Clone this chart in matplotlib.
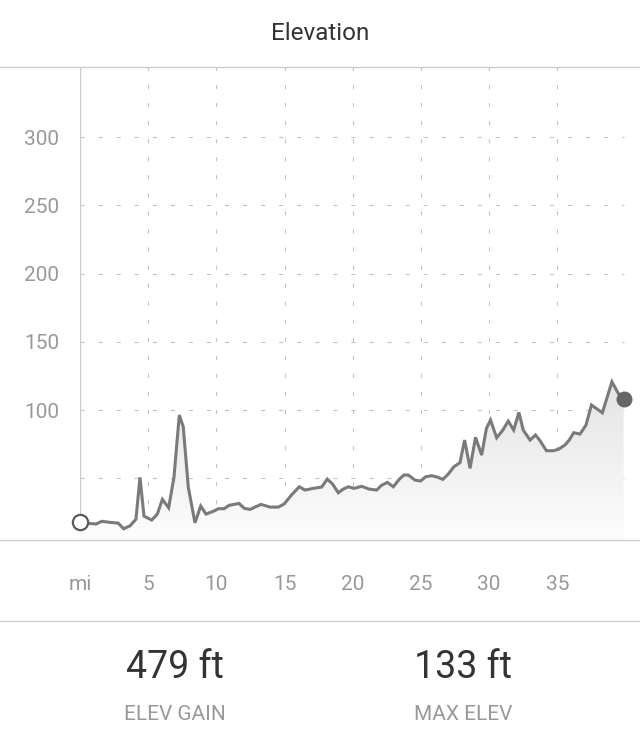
import matplotlib
matplotlib.use("Agg")
import matplotlib.pyplot as plt
from matplotlib.lines import Line2D
from matplotlib.colors import LinearSegmentedColormap
import numpy as np

plt.rcParams['font.family'] = ['Roboto', 'DejaVu Sans']
plt.rcParams['lines.scale_dashes'] = False

# Route profile (miles, feet)
miles = [0.0, 0.6, 1.17, 1.6, 2.2, 2.8, 3.2, 3.67, 4.1, 4.4, 4.69, 5.26, 5.67, 6.04, 6.5,
         6.89, 7.28, 7.57, 7.94, 8.43, 8.85, 9.24, 9.77, 10.14, 10.56, 10.93, 11.66, 12.05,
         12.46, 13.27, 13.93, 14.54, 14.96, 15.5, 16.08, 16.5, 17.1, 17.72, 18.13, 18.52,
         18.94, 19.3, 19.67, 20.09, 20.65, 21.2, 21.75, 22.1, 22.53, 22.97, 23.4, 23.75,
         24.07, 24.56, 24.97, 25.34, 25.78, 26.2, 26.6, 27.0, 27.42, 27.86, 28.2, 28.6,
         29.0, 29.45, 29.8, 30.1, 30.55, 31.0, 31.4, 31.8, 32.18, 32.5, 33.0, 33.4, 33.7,
         34.2, 34.7, 35.07, 35.56, 35.87, 36.2, 36.66, 37.1, 37.5, 38.3, 39.0, 39.47, 39.86]
elevation = [18, 17, 16.5, 18.5, 17.7, 17.2, 13, 15.2, 20, 50.7, 22.3, 19.4, 23.8, 34.6, 28.4,
             50.7, 96.3, 87.8, 43.4, 17.4, 29.7, 23.8, 25.8, 27.7, 27.7, 30.2, 31.6, 28,
             27.2, 30.9, 28.9, 28.9, 31.1, 37.7, 43.8, 41.4, 42.6, 43.6, 49.4, 45.8,
             39.4, 42.1, 43.8, 42.6, 44.1, 42.1, 41.4, 44.8, 47, 43.8, 49.2, 52.4,
             52.4, 48.7, 48, 51.1, 51.9, 50.9, 49.2, 53.1, 58.5, 61.4, 78, 57.3,
             80, 67, 86.6, 92.7, 79.7, 85.3, 91.9, 85.3, 98.3, 85.3, 78, 81.7, 78,
             70.2, 70.2, 71.2, 74.4, 78, 83.4, 82.4, 89, 103.7, 98, 120.7, 112.2, 107.8]

x_ticks = [0, 5, 10, 15, 20, 25, 30, 35]
x_labels = ['mi', '5', '10', '15', '20', '25', '30', '35']
y_ticks = [50, 100, 150, 200, 250, 300]
y_labels = ['', '100', '150', '200', '250', '300']

stat_values = ['479 ft', '133 ft']
stat_names = ['ELEV GAIN', 'MAX ELEV']

W, H = 640, 740
fig = plt.figure(figsize=(W / 100, H / 100), dpi=100)
ax = fig.add_axes([80 / W, (H - 540) / H, 560 / W, 473 / H])

y_lo, y_hi = 4.8, 351.3
ax.set_xlim(0, 41.06)
ax.set_ylim(y_lo, y_hi)
for s in ax.spines.values():
    s.set_visible(False)

grid_col = '#c4c4c4'
dash = (0, (3, 10))
ax.hlines(y_ticks, 0, miles[-1], colors=grid_col, lw=0.8, linestyles=[dash], zorder=1)
ax.vlines(x_ticks[1:], y_lo, y_hi, colors=grid_col, lw=0.8, linestyles=[dash], zorder=1)
ax.axvline(0, color='#cccccc', lw=1.0, zorder=1)

# gradient under the line
fill = ax.fill_between(miles, elevation, y_lo, color='none', lw=0)
cmap = LinearSegmentedColormap.from_list('g', ['#fdfdfd', '#e4e4e4'])
grad = np.linspace(0, 1, 256).reshape(-1, 1)
img = ax.imshow(grad, cmap=cmap, aspect='auto', origin='lower',
                extent=[0, miles[-1], y_lo, max(elevation)], zorder=2)
img.set_clip_path(fill.get_paths()[0], transform=ax.transData)

ax.plot(miles, elevation, color='#7a7a7a', lw=2.2, solid_joinstyle='miter', zorder=3)
ax.plot(miles[0], elevation[0], 'o', ms=11, mfc='white', mec='#5a5a5a', mew=1.6,
        zorder=4, clip_on=False)
ax.plot(miles[-1], elevation[-1], 'o', ms=11.5, mfc='#666666', mec='#666666', mew=0,
        zorder=4, clip_on=False)

ax.set_xticks(x_ticks)
ax.set_xticklabels(x_labels)
ax.set_yticks(y_ticks)
ax.set_yticklabels(y_labels)
ax.tick_params(length=0, colors='#999999', labelsize=15)
ax.tick_params(axis='x', pad=25)
ax.tick_params(axis='y', pad=15)

# full-width separator lines
for yy in [67, 540, 621]:
    fig.add_artist(Line2D([0, 1], [1 - yy / H, 1 - yy / H], color='#cccccc', lw=1.0))

fig.text(0.5, 1 - 33 / H, 'Elevation', ha='center', va='center', fontsize=17.5, color='#333333')

for xc, val, name in zip([175, 463], stat_values, stat_names):
    fig.text(xc / W, 1 - 668 / H, val, ha='center', va='center', fontsize=27, color='#333333')
    fig.text(xc / W, 1 - 714 / H, name, ha='center', va='center', fontsize=15, color='#999999')

fig.savefig('out.png', dpi=100, facecolor='white')
